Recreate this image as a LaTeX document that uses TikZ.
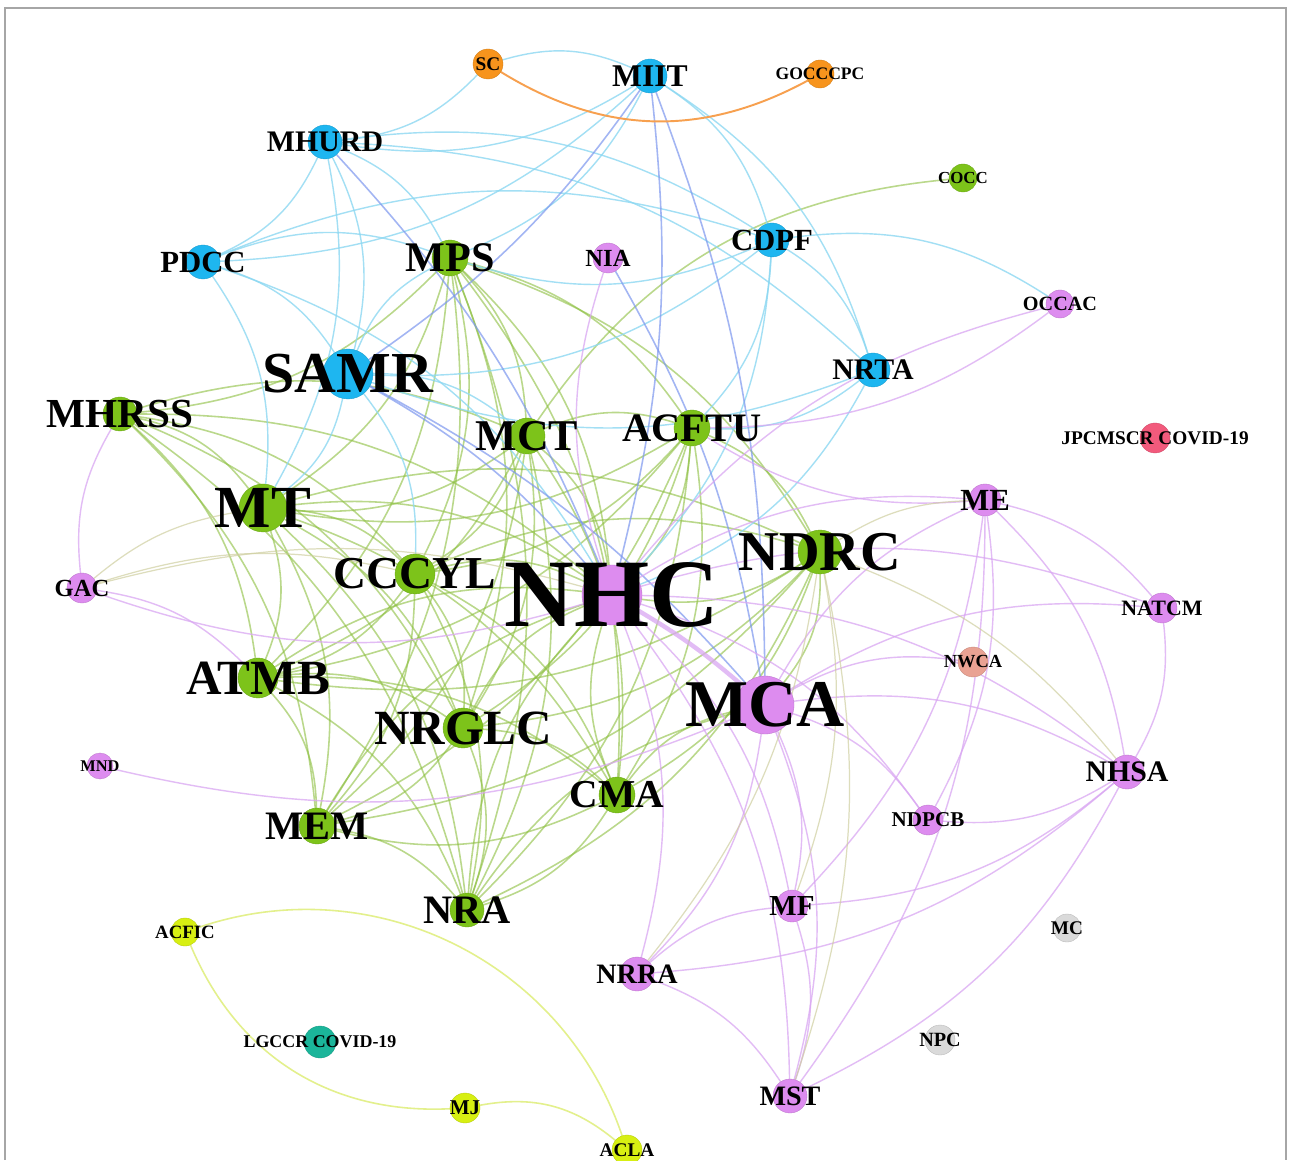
\documentclass[tikz,border=0pt]{standalone}
\usepackage{fontspec}
\setmainfont{Liberation Serif}
\pgfdeclarelayer{edges}
\pgfsetlayers{edges,main}
\definecolor{ngreen}{HTML}{7DC31A}
\definecolor{ncyan}{HTML}{1EB6F0}
\definecolor{nviolet}{HTML}{DD8CEF}
\definecolor{norange}{HTML}{F7941D}
\definecolor{nred}{HTML}{F25A7C}
\definecolor{nsalmon}{HTML}{E9A293}
\definecolor{nteal}{HTML}{1BB59A}
\definecolor{nlime}{HTML}{D7EF12}
\definecolor{ngray}{HTML}{DADADA}
\definecolor{egreen}{HTML}{8CBF3F}
\definecolor{ecyan}{HTML}{8CD8F2}
\definecolor{eblue}{HTML}{7C97EE}
\definecolor{eviolet}{HTML}{D9A6F2}
\definecolor{etan}{HTML}{CFCFA0}
\definecolor{elime}{HTML}{E3F08C}
\definecolor{eorange}{HTML}{F7A04F}
\tikzset{
  vert/.style={circle, inner sep=0pt, fill=#1, draw=#1!85!black, line width=0.2pt},
  lbl/.style={font=\fontsize{#1}{#1}\selectfont\bfseries, inner sep=0pt, text=black},
  gedge/.style={draw=egreen, opacity=0.6, line width=0.9pt},
  cedge/.style={draw=ecyan, opacity=0.8, line width=0.8pt},
  bedge/.style={draw=eblue, opacity=0.7, line width=0.9pt},
  vedge/.style={draw=eviolet, opacity=0.75, line width=0.8pt},
  tedge/.style={draw=etan, opacity=0.7, line width=0.7pt},
  yedge/.style={draw=elime, line width=0.9pt},
  oedge/.style={draw=eorange, line width=1.1pt},
}
\def\verts{SC/488/1096/norange/30/11/SC, MIIT/650/1084/ncyan/34/18/MIIT,
  GOCC/820/1086/norange/28/10/GOCCCPC, MHURD/325/1018/ncyan/34/17/MHURD,
  COCC/963/982/ngreen/28/9.6/COCC, PDCC/203/898/ncyan/34/17.5/PDCC,
  MPS/450/902/ngreen/36/24/MPS, NIA/608/902/nviolet/30/14/NIA,
  CDPF/772/920/ncyan/34/17.5/CDPF, OCCAC/1060/856/nviolet/28/11.5/OCCAC,
  SAMR/348/786/ncyan/50/33/SAMR, NRTA/873/790/ncyan/34/17/NRTA,
  MHRSS/120/746/ngreen/34/23.5/MHRSS, MCT/527/724/ngreen/36/25/MCT,
  ACFTU/692/732/ngreen/36/23/ACFTU, JPC/1155/722/nred/30/11/JPCMSCR COVID-19,
  ME/985/660/nviolet/32/17.5/ME, MT/263/652/ngreen/48/34/MT,
  NDRC/820/608/ngreen/44/32/NDRC, GAC/82/572/nviolet/30/14/GAC,
  CCCYL/415/586/ngreen/40/26/CCCYL, NHC/612/565/nviolet/60/55/NHC,
  NATCM/1162/552/nviolet/30/12.5/NATCM, NWCA/973/498/nsalmon/30/10.5/NWCA,
  MCA/765/455/nviolet/58/38/MCA, ATMB/258/482/ngreen/40/28/ATMB,
  NRGLC/463/432/ngreen/40/28/NRGLC, NHSA/1127/388/nviolet/34/17/NHSA,
  MND/100/394/nviolet/26/9.3/MND, CMA/617/365/ngreen/36/22.5/CMA,
  MEM/317/334/ngreen/36/23/MEM, NDPCB/928/340/nviolet/30/12/NDPCB,
  NRA/467/250/ngreen/34/23/NRA, MF/792/254/nviolet/32/16.5/MF,
  ACFIC/185/228/nlime/28/10.7/ACFIC, MC/1067/232/ngray/28/11/MC,
  NRRA/637/186/nviolet/34/16/NRRA, LGCCR/320/118/nteal/32/10.2/LGCCR COVID-19,
  NPC/940/120/ngray/30/11.5/NPC, MST/790/64/nviolet/34/16/MST,
  MJ/465/52/nlime/30/12/MJ, ACLA/627/10/nlime/30/11/ACLA}
\begin{document}
\begin{tikzpicture}[x=0.02cm, y=0.02cm]
  \useasboundingbox (0,0) rectangle (1290,1160);

  \foreach \nm/\px/\py/\col/\dm/\fs/\txt in \verts
    \node[vert=\col, minimum size=\dm*0.02cm] (\nm) at (\px,\py) {};
  \foreach \nm/\px/\py/\col/\dm/\fs/\txt in \verts
    \node[lbl=\fs] (\nm-t) at (\nm) {\txt};

  \begin{pgfonlayer}{edges}
    \fill[white] (0,0) rectangle (1290,1160);
    \draw[gray!70, line width=1pt] (5,0) -- (5,1152) -- (1286,1152) -- (1286,0);
    % green cluster
    \foreach \a/\bs in {MPS/{MHRSS,MCT,ACFTU,MT,CCCYL,NDRC,ATMB,NRGLC,CMA,MEM,NRA,NHC},
        MHRSS/{MT,CCCYL,ATMB,MEM,NRGLC,NHC,MCT,NRA},
        MCT/{ACFTU,MT,CCCYL,NRGLC,CMA,NRA,NHC,ATMB,MEM},
        ACFTU/{NDRC,MT,CCCYL,NRGLC,CMA,NHC,MEM,NRA,ATMB},
        MT/{CCCYL,ATMB,NRGLC,MEM,NRA,CMA,NHC,NDRC},
        CCCYL/{NHC,ATMB,NRGLC,CMA,MEM,NRA,NDRC},
        NDRC/{NHC,CMA,NRA,NRGLC,ATMB,MEM,MCA},
        ATMB/{NRGLC,MEM,NRA,CMA,NHC}, NRGLC/{CMA,MEM,NRA,NHC},
        CMA/{NRA,MEM,NHC,MCA}, MEM/{NRA,NHC}, NRA/{NHC,MCA}}
      \foreach \b in \bs \draw[gedge] (\a) to[bend left=20] (\b);
    \draw[gedge] (COCC) to[bend right=25] (MCT);
    % cyan cluster
    \foreach \a/\bs in {SC/{MIIT,MHURD}, MIIT/{MHURD,PDCC,CDPF,NRTA,MPS},
        MHURD/{PDCC,SAMR,CDPF,NRTA,MPS,MT}, PDCC/{SAMR,MT,CDPF,MPS,NHC},
        CDPF/{NRTA,SAMR,MPS,ACFTU,NHC,OCCAC}, NRTA/{ACFTU,SAMR,NHC},
        SAMR/{MT,MPS,MCT,CCCYL}}
      \foreach \b in \bs \draw[cedge] (\a) to[bend left=20] (\b);
    \foreach \a/\b in {MIIT/SAMR, MIIT/NHC, MIIT/MCA, SAMR/NHC, SAMR/MCA, MHURD/NHC, NIA/MCA}
      \draw[bedge] (\a) to[bend left=10] (\b);
    % violet cluster
    \foreach \a/\bs in {NHC/{ME,NATCM,NHSA,GAC,NDPCB,NRRA,MF,MST,OCCAC,NIA},
        MCA/{ME,NATCM,NHSA,MF,MST,NRRA,NDPCB,NWCA,MND},
        ME/{NHSA,NATCM,MF,MST,NDPCB,ACFTU}, NATCM/{NHSA},
        NHSA/{MF,NRRA,MST,NDPCB}, MF/{MST}, NRRA/{MST,MF},
        GAC/{MHRSS,ATMB}, OCCAC/{ACFTU}}
      \foreach \b in \bs \draw[vedge] (\a) to[bend left=18] (\b);
    \draw[vedge, line width=2.5pt] (NHC) to[bend left=5] (MCA);
    \foreach \a/\bs in {NDRC/{NHSA,MF,NRRA,MST,ME}, GAC/{MT,CCCYL,NHC}}
      \foreach \b in \bs \draw[tedge] (\a) to[bend left=15] (\b);
    % small groups
    \draw[oedge] (SC) to[bend right=30] (GOCC);
    \draw[yedge] (ACFIC) to[bend left=45] (ACLA);
    \draw[yedge] (ACFIC) to[bend right=35] (MJ);
    \draw[yedge] (MJ) to[bend left=25] (ACLA);
  \end{pgfonlayer}
\end{tikzpicture}
\end{document}
